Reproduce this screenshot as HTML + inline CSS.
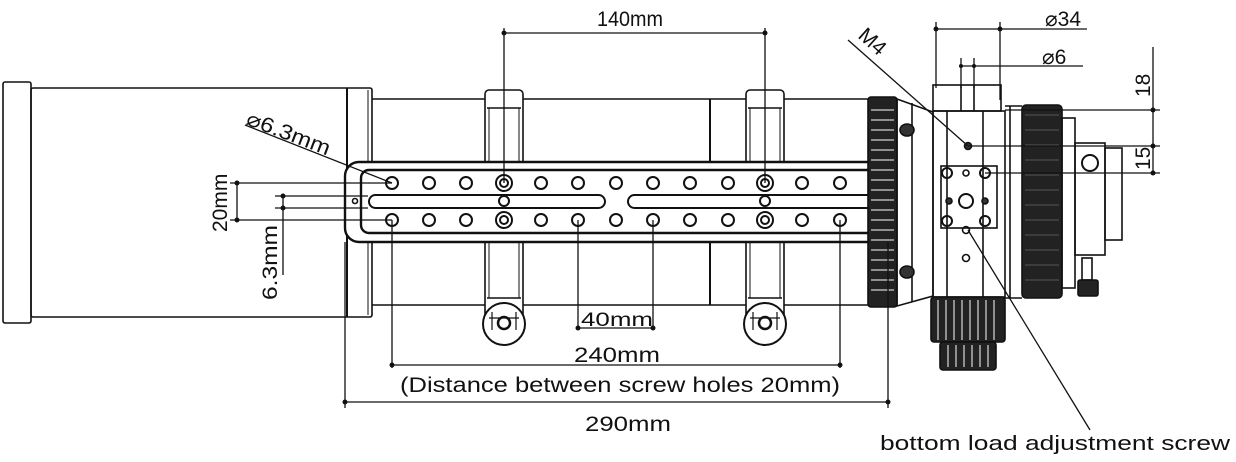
<!DOCTYPE html>
<html><head><meta charset="utf-8"><style>
html,body{margin:0;padding:0;background:#fff;}
svg{display:block;}
text{font-family:"Liberation Sans",sans-serif;fill:#111;}
</style></head><body>
<svg width="1236" height="462" viewBox="0 0 1236 462" xmlns="http://www.w3.org/2000/svg">
<g fill="none" stroke="#111" stroke-width="1.6">
<rect x="3" y="82" width="28" height="241" rx="2"/>
<rect x="31" y="88" width="341" height="229" rx="2"/>
<line x1="347" y1="88" x2="347" y2="317" stroke-width="2"/>
<line x1="368" y1="90" x2="368" y2="315" stroke-width="1"/>
<line x1="372" y1="99" x2="868" y2="99"/>
<line x1="372" y1="305" x2="868" y2="305"/>
<line x1="710" y1="99" x2="710" y2="305" stroke-width="2"/>
<g id="ring">
<rect x="485" y="90" width="38" height="232" rx="4" fill="#fff"/>
<line x1="487" y1="108" x2="521" y2="108"/>
<line x1="487" y1="298" x2="521" y2="298"/>
<line x1="489" y1="108" x2="489" y2="298" stroke-width="1"/>
<line x1="519" y1="108" x2="519" y2="298" stroke-width="1"/>
<circle cx="504" cy="324" r="21" fill="#fff" stroke-width="2"/>
<circle cx="504" cy="323" r="6" stroke-width="2.5"/>
<path d="M489 318 h30 M492 312 v18 M516 312 v18" stroke-width="1.2"/>
</g>
<use href="#ring" x="261"/>
<rect x="345" y="162" width="543" height="80" rx="14" fill="#fff" stroke-width="2.4"/>
<rect x="361" y="170" width="519" height="63" rx="8" stroke-width="2.4"/>
<rect x="369" y="195" width="236" height="13" rx="6.5" stroke-width="2"/>
<rect x="628" y="195" width="250" height="13" rx="6.5" stroke-width="2"/>
<circle cx="355" cy="201" r="2.5"/>
<circle cx="879" cy="201" r="2.5" fill="#111"/>
<g stroke-width="2">
<circle cx="392" cy="183" r="6"/><circle cx="429" cy="183" r="6"/><circle cx="466" cy="183" r="6"/>
<circle cx="504" cy="183" r="8"/><circle cx="504" cy="183" r="4"/>
<circle cx="541" cy="183" r="6"/><circle cx="578" cy="183" r="6"/><circle cx="616" cy="183" r="6"/>
<circle cx="653" cy="183" r="6"/><circle cx="690" cy="183" r="6"/><circle cx="728" cy="183" r="6"/>
<circle cx="765" cy="183" r="8"/><circle cx="765" cy="183" r="4"/>
<circle cx="802" cy="183" r="6"/><circle cx="840" cy="183" r="6"/>
<circle cx="392" cy="220" r="6"/><circle cx="429" cy="220" r="6"/><circle cx="466" cy="220" r="6"/>
<circle cx="504" cy="220" r="8"/><circle cx="504" cy="220" r="4"/>
<circle cx="541" cy="220" r="6"/><circle cx="578" cy="220" r="6"/><circle cx="616" cy="220" r="6"/>
<circle cx="653" cy="220" r="6"/><circle cx="690" cy="220" r="6"/><circle cx="728" cy="220" r="6"/>
<circle cx="765" cy="220" r="8"/><circle cx="765" cy="220" r="4"/>
<circle cx="802" cy="220" r="6"/><circle cx="840" cy="220" r="6"/>
<circle cx="504" cy="201" r="5"/><circle cx="765" cy="201" r="5"/>
</g>
<rect x="868" y="97" width="29" height="210" rx="3" fill="#222"/>
<g stroke="#fff" stroke-width="1">
<path d="M871 110h23M871 120h23M871 130h23M871 140h23M871 150h23M871 160h23M871 170h23M871 180h23M871 190h23M871 200h23M871 210h23M871 220h23M871 230h23M871 240h23M871 250h23M871 260h23M871 270h23M871 280h23M871 290h23"/>
</g>
<path d="M897 99 L933 112 L933 296 L897 306 Z"/>
<line x1="912" y1="103" x2="912" y2="302"/>
<ellipse cx="907" cy="130" rx="7" ry="6" fill="#333"/>
<ellipse cx="907" cy="272" rx="7" ry="6" fill="#333"/>
<rect x="933" y="85" width="68" height="26"/>
<line x1="961" y1="85" x2="961" y2="111"/><line x1="974" y1="85" x2="974" y2="111"/>
<rect x="933" y="111" width="72" height="186"/>
<line x1="947" y1="111" x2="947" y2="297"/><line x1="983" y1="111" x2="983" y2="297"/>
<line x1="1005" y1="106" x2="1022" y2="106"/><line x1="1005" y1="298" x2="1022" y2="298"/>
<line x1="1010" y1="106" x2="1010" y2="298"/>
<rect x="941" y="166" width="56" height="62"/>
<circle cx="947" cy="173" r="5" stroke-width="2"/><circle cx="985" cy="173" r="5" stroke-width="2"/>
<circle cx="947" cy="221" r="5" stroke-width="2"/><circle cx="985" cy="221" r="5" stroke-width="2"/>
<circle cx="966" cy="201" r="7" stroke-width="2"/>
<circle cx="966" cy="173" r="3"/><circle cx="966" cy="230" r="3.5"/><circle cx="966" cy="258" r="3.5"/>
<circle cx="968" cy="146" r="3.5" fill="#333"/>
<circle cx="949" cy="201" r="3" fill="#333"/><circle cx="985" cy="201" r="3" fill="#333"/>
<rect x="931" y="297" width="74" height="45" rx="3" fill="#222"/>
<rect x="940" y="342" width="56" height="28" rx="3" fill="#222"/>
<g stroke="#fff" stroke-width="1"><path d="M938 300v40M946 300v40M954 300v40M962 300v40M970 300v40M978 300v40M986 300v40M994 300v40M948 345v22M956 345v22M964 345v22M972 345v22M980 345v22M988 345v22"/></g>
<rect x="1022" y="105" width="40" height="193" rx="4" fill="#222"/>
<g stroke="#555" stroke-width="1"><path d="M1025 115h34M1025 130h34M1025 145h34M1025 160h34M1025 175h34M1025 190h34M1025 205h34M1025 220h34M1025 235h34M1025 250h34M1025 265h34M1025 280h34"/></g>
<rect x="1062" y="118" width="13" height="170"/>
<rect x="1075" y="143" width="30" height="112"/>
<rect x="1105" y="148" width="17" height="92"/>
<circle cx="1090" cy="163" r="8" stroke-width="2"/>
<rect x="1082" y="258" width="10" height="22"/>
<rect x="1078" y="280" width="20" height="16" rx="2" fill="#222"/>
</g>

<g stroke="#111" stroke-width="1.3" fill="none">
<path d="M504 33 H765 M504 28 V183 M765 28 V183"/>
<path d="M392 365 H840 M392 220 V368 M840 220 V368"/>
<path d="M578 328 H653 M578 220 V330 M653 220 V330"/>
<path d="M345 402 H888 M345 242 V408 M888 242 V408"/>
<path d="M230 183 H392 M230 220 H392 M237 183 V220"/>
<path d="M275 196 H368 M275 208 H368 M283 196 V275"/>
<path d="M245 125 L392 183"/>
<path d="M848 40 L968 146"/>
<path d="M936 29 H1087 M936 22 V88 M1000 22 V100"/>
<path d="M961 66 H1083 M961 58 V88 M974 58 V88"/>
<path d="M1153 47 V175 M1005 110 H1160 M968 146 H1160 M985 173 H1160"/>
<path d="M968 230 L1090 430"/>
</g>
<g fill="#111">
<circle cx="504" cy="33" r="2.5"/><circle cx="765" cy="33" r="2.5"/>
<circle cx="392" cy="365" r="2.5"/><circle cx="840" cy="365" r="2.5"/>
<circle cx="578" cy="328" r="2.5"/><circle cx="653" cy="328" r="2.5"/>
<circle cx="345" cy="402" r="2.5"/><circle cx="888" cy="402" r="2.5"/>
<circle cx="237" cy="183" r="2.5"/><circle cx="237" cy="220" r="2.5"/>
<circle cx="283" cy="196" r="2.5"/><circle cx="283" cy="208" r="2.5"/>
<circle cx="936" cy="29" r="2.5"/><circle cx="1000" cy="29" r="2.5"/>
<circle cx="961" cy="66" r="2"/><circle cx="974" cy="66" r="2"/>
<circle cx="1153" cy="110" r="2.5"/><circle cx="1153" cy="146" r="2.5"/><circle cx="1153" cy="173" r="2.5"/>
</g>
<g font-size="21">
<text x="597" y="26" textLength="66" lengthAdjust="spacingAndGlyphs">140mm</text>
<text x="574" y="362" textLength="86" lengthAdjust="spacingAndGlyphs">240mm</text>
<text x="581" y="326" font-size="19" textLength="72" lengthAdjust="spacingAndGlyphs">40mm</text>
<text x="400" y="392" textLength="440" lengthAdjust="spacingAndGlyphs">(Distance between screw holes 20mm)</text>
<text x="585" y="431" textLength="86" lengthAdjust="spacingAndGlyphs">290mm</text>
<text x="880" y="450" font-size="20" textLength="350" lengthAdjust="spacingAndGlyphs">bottom load adjustment screw</text>
<text x="1045" y="26">⌀34</text>
<text x="1042" y="64">⌀6</text>
<text transform="translate(227,232) rotate(-90)">20mm</text>
<text transform="translate(277,300) rotate(-90)" textLength="75" lengthAdjust="spacingAndGlyphs">6.3mm</text>
<text transform="translate(245,124) rotate(21)" textLength="88" lengthAdjust="spacingAndGlyphs">⌀6.3mm</text>
<text transform="translate(857,37) rotate(42)">M4</text>
<text transform="translate(1150,97) rotate(-90)">18</text>
<text transform="translate(1150,170) rotate(-90)">15</text>
</g>
</svg>
</body></html>
